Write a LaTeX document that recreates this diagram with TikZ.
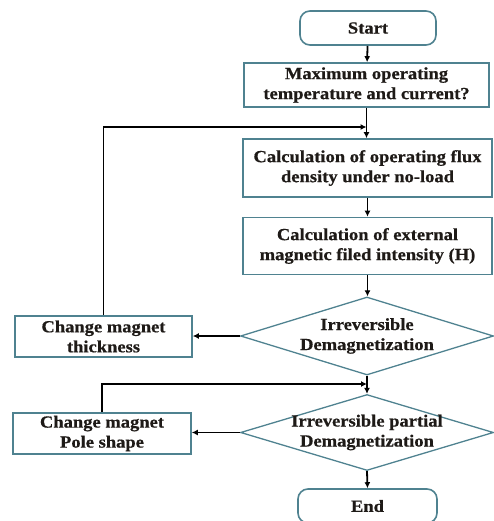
\documentclass[tikz,border=0pt]{standalone}
\usepackage{fontspec}
\newfontfamily\boxfont{Liberation Serif}[FakeStretch=1.09, FakeBold=0.6]
\usetikzlibrary{shapes.geometric,arrows.meta}
\definecolor{edgecol}{HTML}{4F8290}
\definecolor{textcol}{HTML}{1E1A17}
\begin{document}
\begin{tikzpicture}[x=1pt,y=1pt,
  every node/.style={font=\boxfont\bfseries\fontsize{17}{20}\selectfont, align=center, text=textcol},
  procbox/.style={draw=edgecol, line width=1.6pt, rectangle, inner sep=0pt},
  termbox/.style={draw=edgecol, line width=1.6pt, rectangle, rounded corners=10pt, inner sep=0pt},
  decbox/.style={draw=edgecol, line width=1.3pt, diamond, inner sep=0pt},
  flow/.style={draw=black, line width=1.8pt, -{Latex[length=6pt,width=6pt]}},
  plain/.style={draw=black, line width=1.8pt}]
\useasboundingbox (0,0) rectangle (494,-521);
\begin{scope}
\clip (0,0) rectangle (494,-521);
\node[termbox, minimum width=136pt, minimum height=34pt] (start) at (368,-28) {Start};
\node[procbox, minimum width=245pt, minimum height=44pt] (max) at (366.5,-85) {Maximum operating\\temperature and current?};
\node[procbox, minimum width=249pt, minimum height=58pt] (flux) at (367.5,-168) {Calculation of operating flux\\density under no-load};
\node[procbox, minimum width=249pt, minimum height=57pt] (ext) at (367.5,-246) {Calculation of external\\magnetic filed intensity (H)};
\node[decbox, minimum width=253pt, minimum height=78pt] (d1) at (367,-336) {};
\node (d1t) at (d1.center) {Irreversible\\Demagnetization};
\node[procbox, minimum width=177pt, minimum height=41pt] (thick) at (103.5,-336.5) {Change magnet\\thickness};
\node[decbox, minimum width=253pt, minimum height=76pt] (d2) at (367,-432.5) {};
\node (d2t) at (d2.center) {Irreversible partial\\Demagnetization};
\node[procbox, minimum width=178pt, minimum height=41pt] (pole) at (102,-433.5) {Change magnet\\Pole shape};
\node[termbox, minimum width=139pt, minimum height=34pt] (end) at (367.5,-506) {End};
\end{scope}
\coordinate (j1) at (max.south |- 0,-127);
\coordinate (j2) at (d1.south |- 0,-384);
\draw[flow] (start) -- (max);
\draw[flow] (max.south) -- (max.south |- flux.north);
\draw[flow] (flux) -- (ext);
\draw[flow] (ext.south) -- (ext.south |- d1.north);
\draw[flow] (d1.west) -- (thick.east |- d1.west);
\draw[flow] (thick.north) |- (j1);
\draw[flow] (d1.south) -- (d2.north);
\draw[flow] (pole.north) |- (j2);
\draw[flow] (d2.west) -- (pole.east |- d2.west);
\draw[flow] (d2.south) -- (end.north);
\end{tikzpicture}
\end{document}
